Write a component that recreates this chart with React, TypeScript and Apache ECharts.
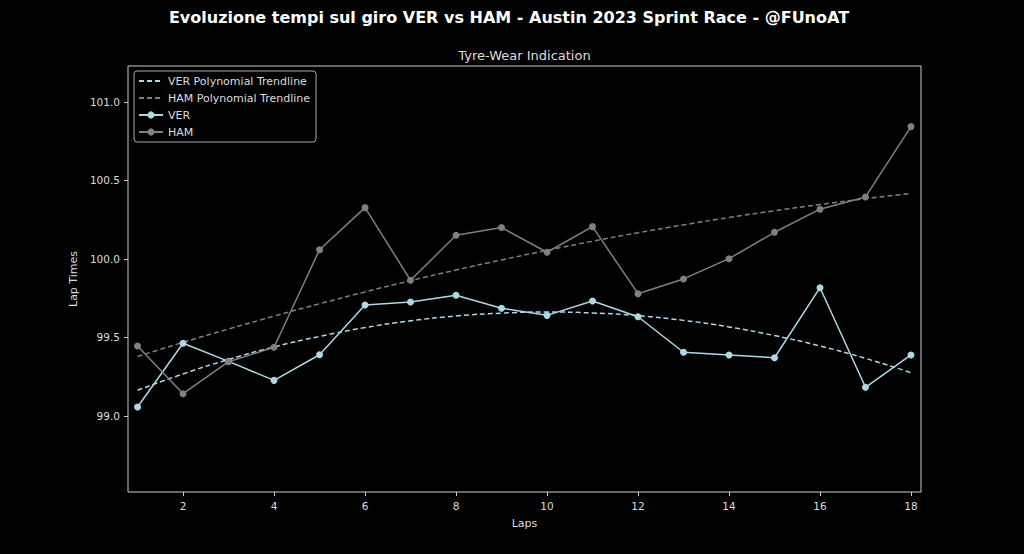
import React, { useEffect, useRef } from "react";
import * as echarts from "echarts";

const laps = [1, 2, 3, 4, 5, 6, 7, 8, 9, 10, 11, 12, 13, 14, 15, 16, 17, 18];
const verTimes = [99.057, 99.463, 99.348, 99.227, 99.39, 99.707, 99.726, 99.769, 99.686, 99.641, 99.732, 99.632, 99.406, 99.389, 99.371, 99.817, 99.183, 99.389];
const hamTimes = [99.446, 99.142, 99.346, 99.438, 100.059, 100.327, 99.864, 100.151, 100.2, 100.043, 100.206, 99.779, 99.873, 100.002, 100.17, 100.317, 100.395, 100.843];
const verTrend = [99.164, 99.268, 99.36, 99.44, 99.507, 99.563, 99.606, 99.637, 99.655, 99.662, 99.656, 99.639, 99.609, 99.567, 99.512, 99.446, 99.367, 99.276];
const hamTrend = [99.379, 99.469, 99.554, 99.636, 99.715, 99.79, 99.862, 99.93, 99.994, 100.055, 100.113, 100.167, 100.217, 100.264, 100.307, 100.347, 100.384, 100.417];
const xTicks = [2, 4, 6, 8, 10, 12, 14, 16, 18];
const yTicks = [99.0, 99.5, 100.0, 100.5, 101.0];

const TITLE = "Evoluzione tempi sul giro VER vs HAM - Austin 2023 Sprint Race - @FUnoAT";
const SUBTITLE = "Tyre-Wear Indication";

const VER_COLOR = "#add8e6";
const HAM_COLOR = "#808080";
const TXT = "#dddddd";
const FONT = "DejaVu Sans";

export default function App() {
  const ref = useRef<HTMLDivElement>(null);
  useEffect(() => {
    if (!ref.current) return;
    const chart = echarts.init(ref.current, null, { renderer: "svg" });
    const pair = (arr: number[]) => laps.map((l, i) => [l, arr[i]]);
    chart.setOption({
      animation: false,
      backgroundColor: "#000000",
      textStyle: { fontFamily: FONT },
      graphic: [
        {
          type: "text",
          x: 509,
          y: 17,
          style: {
            text: TITLE,
            fill: "#ffffff",
            font: "bold 16px 'DejaVu Sans'",
            textAlign: "center",
            textVerticalAlign: "middle",
          },
        },
        {
          type: "text",
          x: 524.5,
          y: 55,
          style: {
            text: SUBTITLE,
            fill: TXT,
            font: "13px 'DejaVu Sans'",
            textAlign: "center",
            textVerticalAlign: "middle",
          },
        },
      ],
      grid: {
        left: 128,
        right: 103,
        top: 66,
        bottom: 62,
        show: true,
        borderColor: "#cccccc",
        borderWidth: 1,
        backgroundColor: "#000000",
      },
      legend: {
        orient: "vertical",
        left: 134,
        top: 71,
        data: [
          { name: "VER Polynomial Trendline", itemStyle: { opacity: 0 } },
          { name: "HAM Polynomial Trendline", itemStyle: { opacity: 0 } },
          { name: "VER" },
          { name: "HAM" },
        ],
        backgroundColor: "#000000",
        borderColor: "#aaaaaa",
        borderWidth: 1,
        borderRadius: 3,
        padding: [4, 6, 4, 4],
        itemGap: 5,
        itemWidth: 24,
        itemHeight: 9,
        textStyle: { color: TXT, fontSize: 11, fontFamily: FONT, lineHeight: 12 },
      },
      xAxis: {
        type: "value",
        min: 0.79,
        max: 18.22,
        name: "Laps",
        nameLocation: "middle",
        nameGap: 26,
        nameTextStyle: { color: TXT, fontSize: 11, fontFamily: FONT },
        axisLine: { show: false },
        axisTick: {
          show: true,
          length: 4,
          lineStyle: { color: "#cccccc" },
          customValues: xTicks,
        },
        axisLabel: {
          color: TXT,
          fontSize: 10.5,
          fontFamily: FONT,
          margin: 8,
          customValues: xTicks,
        },
        splitLine: { show: false },
      },
      yAxis: {
        type: "value",
        min: 98.516,
        max: 101.229,
        name: "Lap Times",
        nameLocation: "middle",
        nameGap: 45,
        nameRotate: 90,
        nameTextStyle: { color: TXT, fontSize: 11, fontFamily: FONT },
        axisLine: { show: false },
        axisTick: {
          show: true,
          length: 4,
          lineStyle: { color: "#cccccc" },
          customValues: yTicks,
        },
        axisLabel: {
          color: TXT,
          fontSize: 10.5,
          fontFamily: FONT,
          margin: 8,
          customValues: yTicks,
          formatter: (v: number) => v.toFixed(1),
        },
        splitLine: { show: false },
      },
      series: [
        {
          name: "VER Polynomial Trendline",
          type: "line",
          data: pair(verTrend),
          smooth: true,
          symbol: "none",
          lineStyle: { color: VER_COLOR, width: 1.5, type: [5, 3] },
          itemStyle: { color: VER_COLOR },
          z: 2,
        },
        {
          name: "HAM Polynomial Trendline",
          type: "line",
          data: pair(hamTrend),
          smooth: true,
          symbol: "none",
          lineStyle: { color: HAM_COLOR, width: 1.5, type: [5, 3] },
          itemStyle: { color: HAM_COLOR },
          z: 2,
        },
        {
          name: "VER",
          type: "line",
          data: pair(verTimes),
          symbol: "circle",
          symbolSize: 7,
          lineStyle: { color: VER_COLOR, width: 1.5 },
          itemStyle: { color: VER_COLOR },
          z: 3,
        },
        {
          name: "HAM",
          type: "line",
          data: pair(hamTimes),
          symbol: "circle",
          symbolSize: 7,
          lineStyle: { color: HAM_COLOR, width: 1.5 },
          itemStyle: { color: HAM_COLOR },
          z: 3,
        },
      ],
    });
    return () => chart.dispose();
  }, []);
  return (
    <div
      ref={ref}
      style={{ position: "fixed", left: 0, top: 0, width: 1024, height: 554, background: "#000" }}
    />
  );
}
